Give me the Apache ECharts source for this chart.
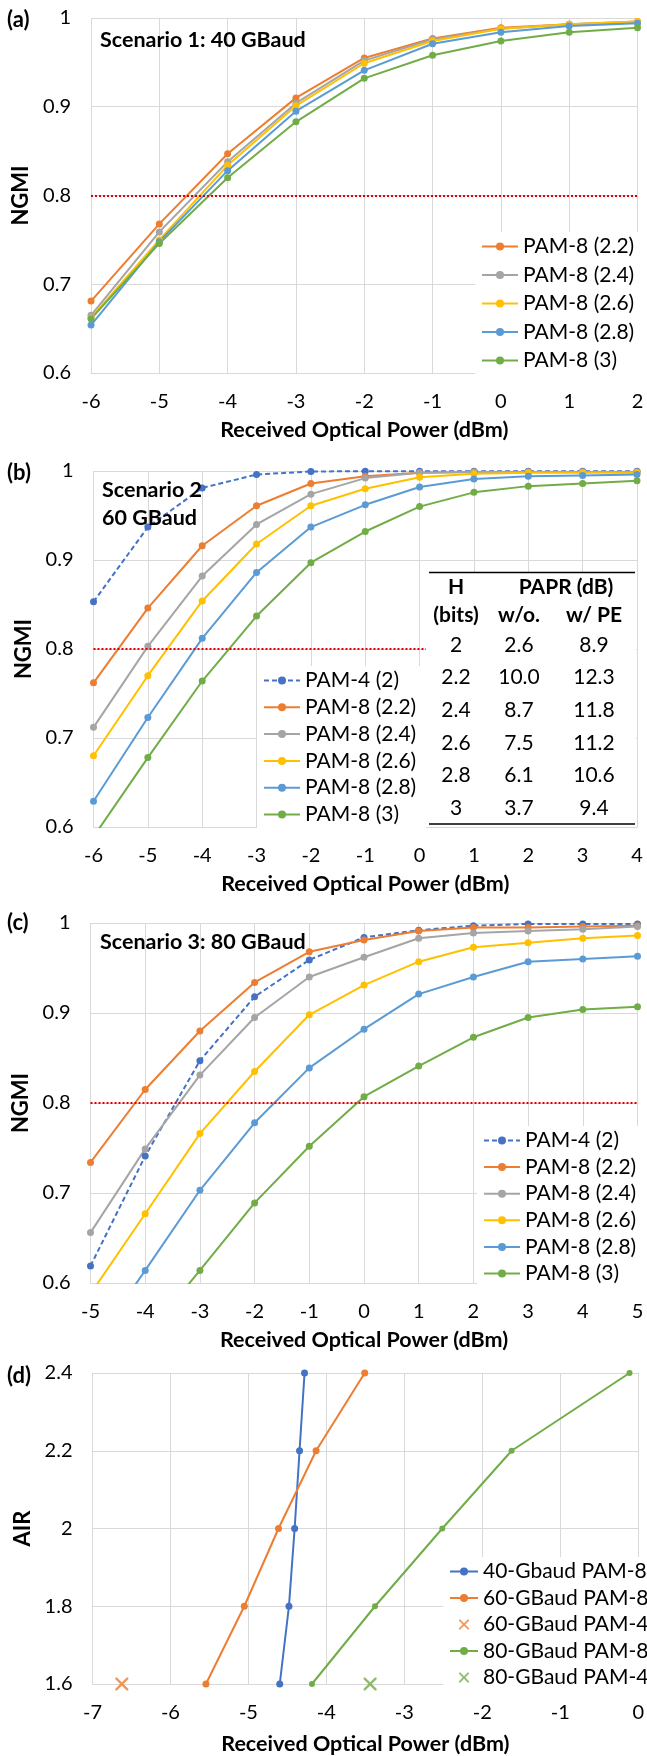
<!DOCTYPE html>
<html>
<head>
<meta charset="utf-8">
<script src="https://cdn.jsdelivr.net/npm/echarts@6/dist/echarts.min.js"></script>
<style>
html, body { margin: 0; padding: 0; background: #fff; }
#chart { width: 647px; height: 1756px; }
</style>
</head>
<body>
<div id="chart"></div>
<script>
// (a) Scenario 1: 40 GBaud
var powerA = [-6, -5, -4, -3, -2, -1, 0, 1, 2];
var a22 = [0.681, 0.768, 0.847, 0.910, 0.955, 0.977, 0.989, 0.993, 0.996];
var a24 = [0.665, 0.759, 0.838, 0.904, 0.952, 0.976, 0.988, 0.993, 0.995];
var a26 = [0.662, 0.750, 0.834, 0.901, 0.949, 0.974, 0.988, 0.993, 0.996];
var a28 = [0.654, 0.748, 0.828, 0.895, 0.941, 0.971, 0.984, 0.991, 0.994];
var a3 = [0.661, 0.746, 0.820, 0.883, 0.932, 0.958, 0.974, 0.984, 0.989];

// (b) Scenario 2: 60 GBaud
var powerB = [-6, -5, -4, -3, -2, -1, 0, 1, 2, 3, 4];
var b2 = [0.853, 0.937, 0.981, 0.996, 0.9995, 0.9997, 0.9998, 0.9998, 0.9998, 0.9998, 0.9998];
var b22 = [0.762, 0.846, 0.916, 0.961, 0.986, 0.994, 0.998, 0.999, 0.999, 0.999, 0.999];
var b24 = [0.712, 0.803, 0.882, 0.940, 0.974, 0.992, 0.998, 0.999, 0.999, 0.999, 0.999];
var b26 = [0.680, 0.770, 0.854, 0.918, 0.961, 0.980, 0.993, 0.997, 0.998, 0.998, 0.998];
var b28 = [0.629, 0.723, 0.812, 0.886, 0.937, 0.962, 0.982, 0.991, 0.994, 0.995, 0.996];
var b3 = [0.589, 0.678, 0.764, 0.837, 0.897, 0.932, 0.960, 0.976, 0.983, 0.986, 0.989];

// table in (b)
var tableH = ['2', '2.2', '2.4', '2.6', '2.8', '3'];
var paprWo = ['2.6', '10.0', '8.7', '7.5', '6.1', '3.7'];
var paprPE = ['8.9', '12.3', '11.8', '11.2', '10.6', '9.4'];

// (c) Scenario 3: 80 GBaud
var powerC = [-5, -4, -3, -2, -1, 0, 1, 2, 3, 4, 5];
var c2 = [0.619, 0.741, 0.847, 0.918, 0.959, 0.984, 0.992, 0.997, 0.999, 0.999, 0.999];
var c22 = [0.734, 0.815, 0.880, 0.934, 0.968, 0.981, 0.991, 0.995, 0.995, 0.996, 0.997];
var c24 = [0.656, 0.749, 0.831, 0.895, 0.940, 0.962, 0.983, 0.989, 0.991, 0.993, 0.996];
var c26 = [0.588, 0.677, 0.766, 0.835, 0.898, 0.931, 0.957, 0.973, 0.978, 0.983, 0.986];
var c28 = [0.526, 0.614, 0.703, 0.778, 0.839, 0.882, 0.921, 0.940, 0.957, 0.960, 0.963];
var c3 = [null, 0.540, 0.614, 0.689, 0.752, 0.807, 0.841, 0.873, 0.895, 0.904, 0.907];

// (d) AIR vs received power
var airLevels = [1.6, 1.8, 2.0, 2.2, 2.4];
var d40 = [-4.598, -4.480, -4.407, -4.344, -4.280];
var d60 = [-5.545, -5.053, -4.614, -4.132, -3.508];
var d80 = [-4.185, -3.376, -2.513, -1.624, -0.111];
var d60pam4 = [[-6.624, 1.6]];
var d80pam4 = [[-3.439, 1.6]];

var cPam4 = '#4472C4', c22c = '#ED7D31', c24c = '#A5A5A5', c26c = '#FFC000', c28c = '#5B9BD5', c3c = '#70AD47';
var FONT = 'Lato, "Open Sans", sans-serif';
var GRID = '#D9D9D9';
var crossPath = 'path://M0,0 L1.3,0 L5,3.7 L8.7,0 L10,0 L10,1.3 L6.3,5 L10,8.7 L10,10 L8.7,10 L5,6.3 L1.3,10 L0,10 L0,8.7 L3.7,5 L0,1.3 Z';

function pairs(xs, ys) {
    return xs.map(function (x, i) { return [x, ys[i]]; });
}

function lineSeries(name, data, color, gi, dashed, size) {
    return {
        type: 'line', name: name, data: data,
        xAxisIndex: gi, yAxisIndex: gi,
        symbol: 'circle', symbolSize: size || 7,
        itemStyle: { color: color },
        lineStyle: { color: color, width: 2, type: dashed ? [5, 3] : 'solid' },
        z: 3
    };
}

function threshold() {
    return {
        silent: true, symbol: 'none', label: { show: false },
        lineStyle: { color: '#E00000', type: [2, 2], width: 2 },
        data: [{ yAxis: 0.8 }]
    };
}

function xAxis(gi, min, max, gap) {
    return {
        gridIndex: gi, type: 'value', min: min, max: max, interval: 1,
        axisLine: { show: true, lineStyle: { color: GRID, width: 1 } },
        axisTick: { show: false },
        splitLine: { show: true, lineStyle: { color: GRID, width: 1 } },
        axisLabel: { color: '#000', fontSize: 20, fontFamily: FONT, margin: 19 },
        name: 'Received Optical Power (dBm)', nameLocation: 'middle', nameGap: gap || 46,
        nameTextStyle: { color: '#000', fontSize: 21.5, fontWeight: 'bold', fontFamily: FONT }
    };
}

function yAxis(gi, min, max, step, name) {
    return {
        gridIndex: gi, type: 'value', min: min, max: max, interval: step,
        axisLine: { show: true, lineStyle: { color: GRID, width: 1 } },
        axisTick: { show: false },
        splitLine: { show: true, lineStyle: { color: GRID, width: 1 } },
        axisLabel: { color: '#000', fontSize: 20, fontFamily: FONT, margin: 20 },
        name: name, nameLocation: 'middle', nameGap: 48, nameRotate: 90,
        nameTextStyle: { color: '#000', fontSize: 22, fontWeight: 'bold', fontFamily: FONT }
    };
}

function legend(names, left, top, gap, iconW) {
    return {
        data: names, orient: 'vertical', left: left, top: top,
        itemWidth: iconW, itemHeight: 10, itemGap: gap,
        padding: [4, 10, 4, 6],
        backgroundColor: '#fff',
        selectedMode: false,
        textStyle: { color: '#000', fontSize: 21, fontFamily: FONT, lineHeight: 20 }
    };
}

var pam8Names = ['PAM-8 (2.2)', 'PAM-8 (2.4)', 'PAM-8 (2.6)', 'PAM-8 (2.8)', 'PAM-8 (3)'];

var series = [];
var sa = lineSeries('PAM-8 (2.2)', pairs(powerA, a22), c22c, 0);
sa.markLine = threshold();
series.push(sa,
    lineSeries('PAM-8 (2.4)', pairs(powerA, a24), c24c, 0),
    lineSeries('PAM-8 (2.6)', pairs(powerA, a26), c26c, 0),
    lineSeries('PAM-8 (2.8)', pairs(powerA, a28), c28c, 0),
    lineSeries('PAM-8 (3)', pairs(powerA, a3), c3c, 0));

var sb = lineSeries('PAM-4 (2)', pairs(powerB, b2), cPam4, 1, true);
sb.markLine = threshold();
series.push(sb,
    lineSeries('PAM-8 (2.2)', pairs(powerB, b22), c22c, 1),
    lineSeries('PAM-8 (2.4)', pairs(powerB, b24), c24c, 1),
    lineSeries('PAM-8 (2.6)', pairs(powerB, b26), c26c, 1),
    lineSeries('PAM-8 (2.8)', pairs(powerB, b28), c28c, 1),
    lineSeries('PAM-8 (3)', pairs(powerB, b3), c3c, 1));

var sc = lineSeries('PAM-4 (2)', pairs(powerC, c2), cPam4, 2, true);
sc.markLine = threshold();
series.push(sc,
    lineSeries('PAM-8 (2.2)', pairs(powerC, c22), c22c, 2),
    lineSeries('PAM-8 (2.4)', pairs(powerC, c24), c24c, 2),
    lineSeries('PAM-8 (2.6)', pairs(powerC, c26), c26c, 2),
    lineSeries('PAM-8 (2.8)', pairs(powerC, c28), c28c, 2),
    lineSeries('PAM-8 (3)', pairs(powerC, c3), c3c, 2));

series.push(
    lineSeries('40-Gbaud PAM-8', pairs(d40, airLevels), cPam4, 3),
    lineSeries('60-GBaud PAM-8', pairs(d60, airLevels), c22c, 3),
    { type: 'scatter', name: '60-GBaud PAM-4', data: d60pam4, xAxisIndex: 3, yAxisIndex: 3,
      symbol: crossPath, symbolSize: 13, itemStyle: { color: c22c }, z: 3 },
    lineSeries('80-GBaud PAM-8', pairs(d80, airLevels), c3c, 3, false, 6),
    { type: 'scatter', name: '80-GBaud PAM-4', data: d80pam4, xAxisIndex: 3, yAxisIndex: 3,
      symbol: crossPath, symbolSize: 13, itemStyle: { color: c3c }, z: 3 });

// annotations
var graphics = [];
function label(text, x, y, opts) {
    opts = opts || {};
    graphics.push({
        type: 'text', z: 12,
        style: {
            text: text, x: x, y: y,
            align: opts.align || 'left', verticalAlign: 'middle',
            fill: '#000', fontSize: opts.size || 20, fontFamily: FONT,
            fontWeight: opts.bold ? 'bold' : 'normal'
        }
    });
}
label('(a)', 7, 20, { bold: true, size: 22 });
label('(b)', 7, 473, { bold: true, size: 22 });
label('(c)', 7, 923, { bold: true, size: 22 });
label('(d)', 7, 1376, { bold: true, size: 22 });
label('Scenario 1: 40 GBaud', 100, 40, { bold: true, size: 21.5 });
label('Scenario 2', 102, 490, { bold: true, size: 21.5 });
label('60 GBaud', 102, 518, { bold: true, size: 21.5 });
label('Scenario 3: 80 GBaud', 100, 942, { bold: true, size: 21.5 });

// table in (b)
graphics.push({ type: 'rect', z: 10, shape: { x: 426, y: 573, width: 210, height: 254 }, style: { fill: '#fff' } });
graphics.push({ type: 'line', z: 11, shape: { x1: 429, y1: 572.5, x2: 635, y2: 572.5 }, style: { stroke: '#000', lineWidth: 1.5 } });
graphics.push({ type: 'line', z: 11, shape: { x1: 429, y1: 824, x2: 635, y2: 824 }, style: { stroke: '#000', lineWidth: 1.5 } });
label('H', 456, 587, { bold: true, align: 'center', size: 21 });
label('PAPR (dB)', 566, 587, { bold: true, align: 'center', size: 21 });
label('(bits)', 456, 615, { bold: true, align: 'center', size: 21 });
label('w/o.', 519, 615, { bold: true, align: 'center', size: 21 });
label('w/ PE', 594, 615, { bold: true, align: 'center', size: 21 });
tableH.forEach(function (h, i) {
    var y = 645 + i * 32.6;
    label(h, 456, y, { align: 'center', size: 21 });
    label(paprWo[i], 519, y, { align: 'center', size: 21 });
    label(paprPE[i], 594, y, { align: 'center', size: 21 });
});

var option = {
    animation: false,
    backgroundColor: '#fff',
    grid: [
        { left: 91, top: 18, width: 546.5, height: 355 },
        { left: 93.5, top: 471, width: 543.5, height: 356 },
        { left: 90.5, top: 923, width: 547, height: 360 },
        { left: 92.5, top: 1373, width: 546.5, height: 316 }
    ],
    xAxis: [xAxis(0, -6, 2), xAxis(1, -6, 4), xAxis(2, -5, 5), xAxis(3, -7, 0, 49)],
    yAxis: [yAxis(0, 0.6, 1, 0.1, 'NGMI'), yAxis(1, 0.6, 1, 0.1, 'NGMI'),
            yAxis(2, 0.6, 1, 0.1, 'NGMI'), yAxis(3, 1.6, 2.4, 0.2, 'AIR')],
    legend: [
        legend(pam8Names, 475, 232, 7.5, 36),
        legend(['PAM-4 (2)'].concat(pam8Names), 257, 666, 5.8, 36),
        legend(['PAM-4 (2)'].concat(pam8Names), 477, 1126, 5.6, 36),
        legend(['40-Gbaud PAM-8', '60-GBaud PAM-8', '60-GBaud PAM-4', '80-GBaud PAM-8', '80-GBaud PAM-4'],
               443, 1557, 5.5, 28)
    ],
    graphic: graphics,
    series: series
};

var chart = echarts.init(document.getElementById('chart'));
chart.setOption(option);
</script>
</body>
</html>
